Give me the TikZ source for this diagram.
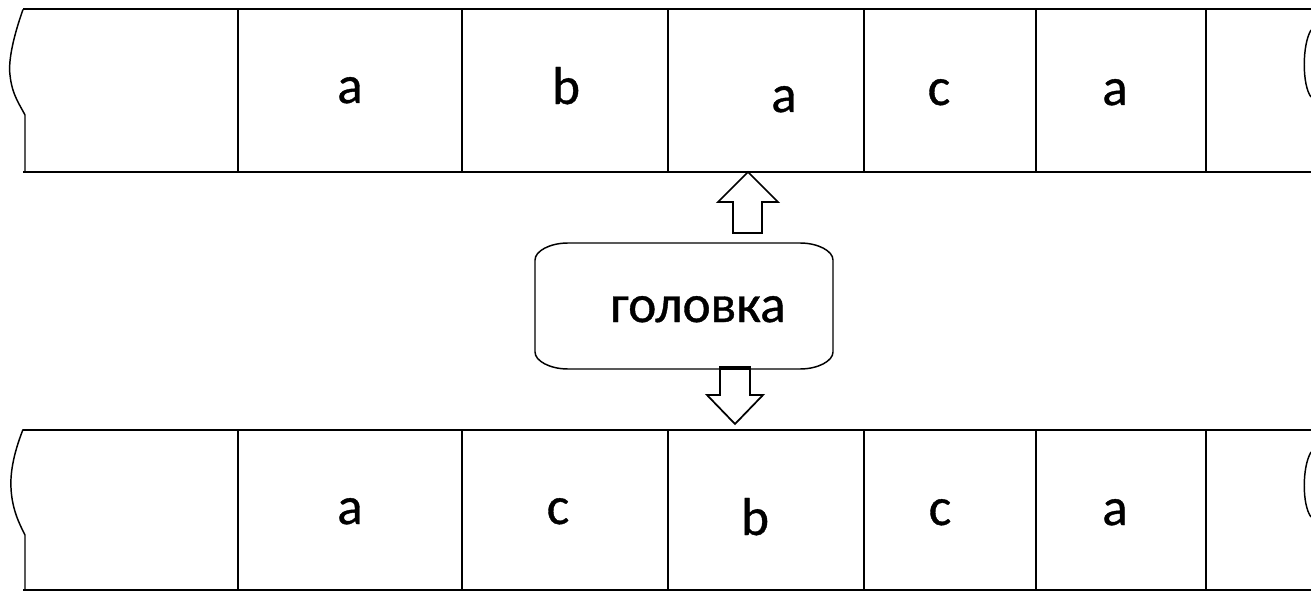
\documentclass[tikz,border=0pt]{standalone}
\usepackage{fontspec}
\setmainfont{Carlito}
\begin{document}
\begin{tikzpicture}[x=0.75pt,y=-0.75pt,
  tape/.style={line width=1.5pt,black},
  edge/.style={line width=1.1pt,black},
  blockarrow/.style={line width=1.3pt,black,fill=white,line join=miter},
  sym/.style={font=\fontsize{40}{40}\selectfont\addfontfeature{FakeBold=0.7},inner sep=0pt,anchor=base}]
\useasboundingbox (0,0) rectangle (1311,592);
\fill[white] (0,0) rectangle (1311,592);

% ---- upper tape ----
\draw[tape] (23,9.5) -- (1311,9.5);
\draw[tape] (23,171.5) -- (1311,171.5);
\draw[edge] (23,9.5) .. controls (14,35) and (8,60) .. (10,75)
            .. controls (12,95) and (20,105) .. (25,115) -- (25,171.5);
\draw[edge] (1311,30) .. controls (1302,45) and (1302,85) .. (1311,97);
\foreach \x in {238,462,668,864,1036,1206}
  \draw[line width=1.3pt] (\x,9.5) -- (\x,171.5);
\node[sym] (t1) at (350,103) {a};
\node[sym] (t2) at (566,104) {b};
\node[sym] (t3) at (784,112) {a};
\node[sym] (t4) at (939,105) {c};
\node[sym] (t5) at (1115,105) {a};

% ---- lower tape ----
\draw[tape] (23,429.5) -- (1311,429.5);
\draw[tape] (23,590) -- (1311,590);
\draw[edge] (23,429.5) .. controls (15,450) and (10,470) .. (11,488)
            .. controls (12,510) and (20,525) .. (25,535) -- (25,590);
\draw[edge] (1311,452) .. controls (1302,467) and (1302,505) .. (1311,517);
\foreach \x in {238,462,668,864,1036,1206}
  \draw[line width=1.3pt] (\x,429.5) -- (\x,590);
\node[sym] (b1) at (350,524) {a};
\node[sym] (b2) at (558,524) {c};
\node[sym] (b3) at (755,535) {b};
\node[sym] (b4) at (940,525) {c};
\node[sym] (b5) at (1115,525) {a};

% ---- read/write head ----
\draw[line width=1.1pt] (568,243) -- (800,243)
  .. controls (818,243) and (833,251) .. (833,260) -- (833,352)
  .. controls (833,361) and (818,369) .. (800,369) -- (568,369)
  .. controls (550,369) and (535,361) .. (535,352) -- (535,260)
  .. controls (535,251) and (550,243) .. (568,243) -- cycle;
\node[sym] (head) at (698,322) {головка};

% block arrows between the head and the tapes
\draw[blockarrow] (748,172) -- (778,202) -- (762,202) -- (762,233)
  -- (733,233) -- (733,202) -- (718,202) -- cycle;
\draw[blockarrow] (720,367) -- (750,367) -- (750,395) -- (763,395)
  -- (735,424) -- (707,395) -- (720,395) -- cycle;
\draw[line width=2.5pt] (720,368) -- (750,368);
\end{tikzpicture}
\end{document}
